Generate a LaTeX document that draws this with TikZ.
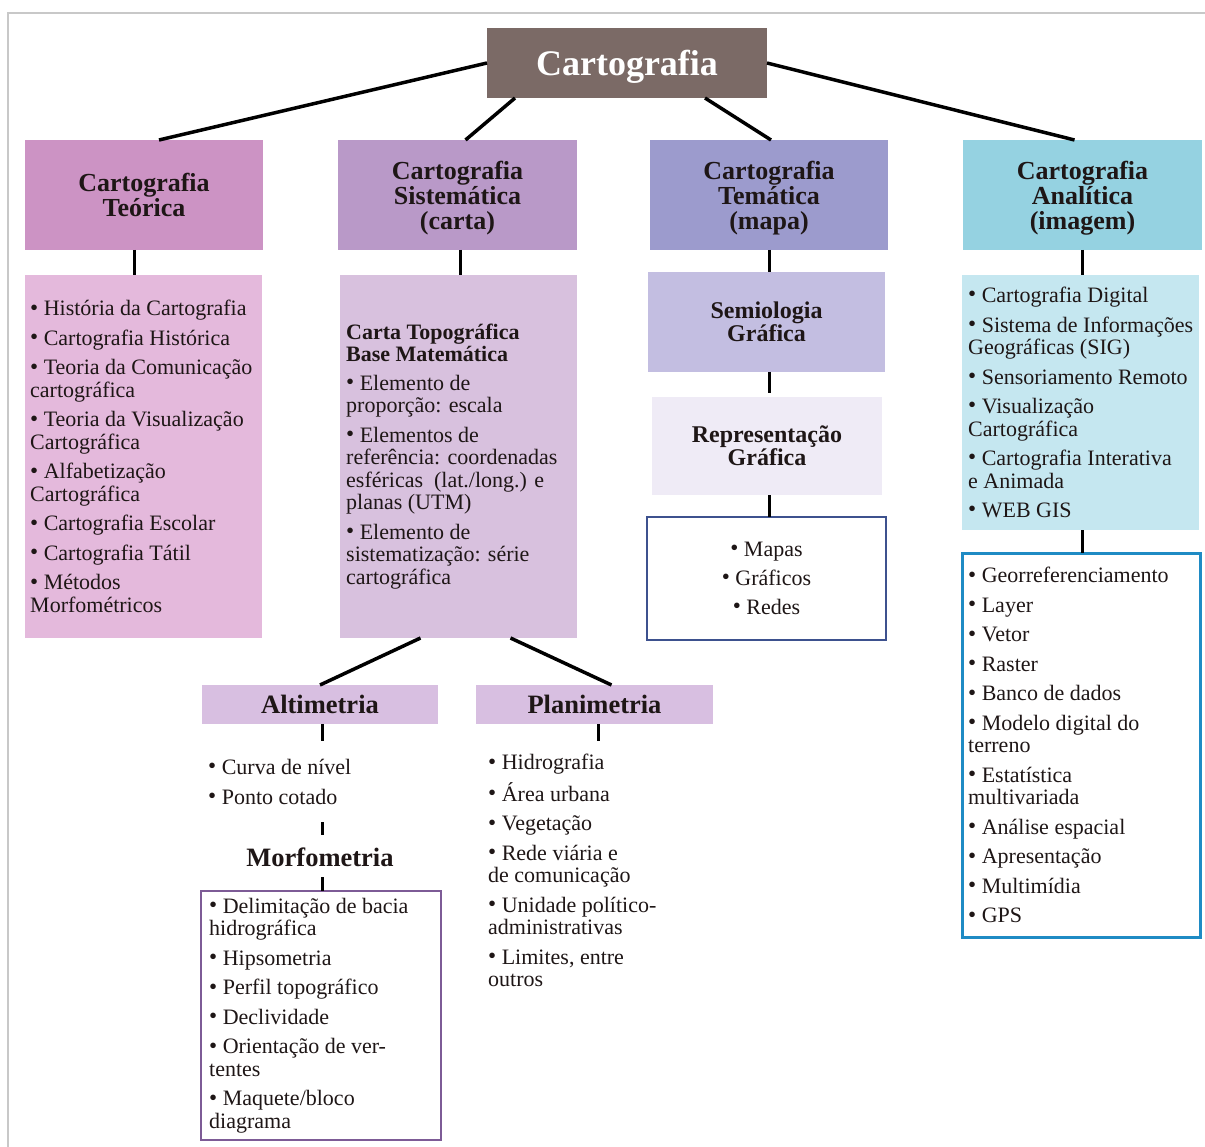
\documentclass[tikz,border=0pt]{standalone}
\usepackage{fontspec}
\usepackage{graphicx}
\setmainfont{Liberation Serif}
\usetikzlibrary{calc}

\definecolor{rootfill}{HTML}{7B6A66}
\definecolor{teohead}{HTML}{CC93C4}
\definecolor{teobody}{HTML}{E4B9DC}
\definecolor{sishead}{HTML}{B999C8}
\definecolor{sisbody}{HTML}{D8C1DE}
\definecolor{temhead}{HTML}{9C9BCD}
\definecolor{semifill}{HTML}{C3BEE1}
\definecolor{reprfill}{HTML}{EFEBF6}
\definecolor{mapaline}{HTML}{3D518E}
\definecolor{anahead}{HTML}{95D2E1}
\definecolor{anabody}{HTML}{C5E7F0}
\definecolor{gisline}{HTML}{1F8BC4}
\definecolor{altfill}{HTML}{D8BFE1}
\definecolor{morfline}{HTML}{7D5B96}
\definecolor{framegray}{HTML}{C8C8C8}
\definecolor{ink}{HTML}{1E1616}

% raised bullet for list items
\newcommand\bul{\raisebox{0.6pt}{\scalebox{1.05}{\textbullet}}\ }

\tikzset{
  box/.style={anchor=north west, inner sep=0pt, outer sep=0pt, rectangle},
  head/.style={box, align=center, text=ink, text depth=0pt, font=\fontsize{26}{25}\selectfont\bfseries},
  subhead/.style={box, align=center, text=ink, font=\fontsize{24}{23}\selectfont\bfseries},
  listtxt/.style={align=left, inner sep=0pt, text=ink, font=\fontsize{22}{22.5}\selectfont},
  link/.style={line width=3.5pt, black},
  stub/.style={line width=3pt, black},
}

\begin{document}
\begin{tikzpicture}[x=1pt, y=-1pt]
  \useasboundingbox (0,0) rectangle (1205,1147);
  \fill[white] (0,0) rectangle (1205,1147);
  % page frame
  \draw[framegray, line width=2.5pt] (1205,13) -- (8,13) -- (8,1147);

  % root
  \node[box, fill=rootfill, minimum width=280, minimum height=70, text=white,
        text height=26pt, text depth=0pt,
        font=\fontsize{36}{36}\selectfont\bfseries] (root) at (487,28) {Cartografia};

  % four branches
  \node[head, fill=teohead, minimum width=238, minimum height=110] (teo) at (25,140)
    {Cartografia\\Teórica};
  \node[head, fill=sishead, minimum width=239, minimum height=110] (sis) at (338,140)
    {Cartografia\\Sistemática\\(carta)};
  \node[head, fill=temhead, minimum width=238, minimum height=110] (tem) at (650,140)
    {Cartografia\\Temática\\(mapa)};
  \node[head, fill=anahead, minimum width=239, minimum height=110] (ana) at (963,140)
    {Cartografia\\Analítica\\(imagem)};

  % Cartografia Teórica
  \node[box, fill=teobody, minimum width=237, minimum height=363] (teolist) at (25,275) {};
  \node[listtxt, anchor=west] (teotxt) at ([xshift=5pt]teolist.west)
    {\bul História da Cartografia\\[7pt]
     \bul Cartografia Histórica\\[7pt]
     \bul Teoria da Comunicação\\cartográfica\\[7pt]
     \bul Teoria da Visualização\\Cartográfica\\[7pt]
     \bul Alfabetização\\Cartográfica\\[7pt]
     \bul Cartografia Escolar\\[7pt]
     \bul Cartografia Tátil\\[7pt]
     \bul Métodos\\Morfométricos};

  % Cartografia Sistemática
  \node[box, fill=sisbody, minimum width=237, minimum height=363] (sislist) at (340,275) {};
  \node[listtxt, anchor=west] (sistxt) at ([xshift=6pt]sislist.west)
    {\textbf{Carta Topográfica}\\
     \textbf{Base Matemática}\\[6pt]
     \bul Elemento de\\proporção: escala\\[7pt]
     \bul Elementos de\\referência: coordenadas\\esféricas\ \ (lat./long.) e\\planas (UTM)\\[7pt]
     \bul Elemento de\\sistematização: série\\cartográfica};

  % Cartografia Temática
  \node[subhead, fill=semifill, minimum width=237, minimum height=100] (semi) at (648,272)
    {Semiologia\\Gráfica};
  \node[subhead, fill=reprfill, minimum width=230, minimum height=98] (repr) at (652,397)
    {Representação\\Gráfica};
  \node[box, draw=mapaline, line width=2.5pt, fill=white, minimum width=239, minimum height=123] (mapas) at (647,517) {};
  \node[listtxt, align=center] (mapastxt) at (mapas.center)
    {\bul Mapas\\[6.5pt]\bul Gráficos\\[6.5pt]\bul Redes};

  % Cartografia Analítica
  \node[box, fill=anabody, minimum width=237, minimum height=255] (analist) at (962,275) {};
  \node[listtxt, anchor=west] (anatxt) at ([xshift=6pt]analist.west)
    {\bul Cartografia Digital\\[7pt]
     \bul Sistema de Informações\\Geográficas (SIG)\\[7pt]
     \bul Sensoriamento Remoto\\[7pt]
     \bul Visualização\\Cartográfica\\[7pt]
     \bul Cartografia Interativa\\e Animada\\[7pt]
     \bul WEB GIS};
  \node[box, draw=gisline, line width=3pt, fill=white, minimum width=238, minimum height=384] (gis) at (962,553) {};
  \node[listtxt, anchor=west] (gistxt) at ([xshift=6pt]gis.west)
    {\bul Georreferenciamento\\[7pt]
     \bul Layer\\[7pt]
     \bul Vetor\\[7pt]
     \bul Raster\\[7pt]
     \bul Banco de dados\\[7pt]
     \bul Modelo digital do\\terreno\\[7pt]
     \bul Estatística\\multivariada\\[7pt]
     \bul Análise espacial\\[7pt]
     \bul Apresentação\\[7pt]
     \bul Multimídia\\[7pt]
     \bul GPS};

  % Altimetria / Planimetria
  \node[box, fill=altfill, minimum width=236, minimum height=39, text=ink,
        font=\fontsize{26.5}{26}\selectfont\bfseries] (alt) at (202,685) {Altimetria};
  \node[box, fill=altfill, minimum width=237, minimum height=39, text=ink,
        font=\fontsize{26.5}{26}\selectfont\bfseries] (plan) at (476,685) {Planimetria};
  \node[listtxt, anchor=north west] (altitems) at (208,759)
    {\bul Curva de nível\\[7pt]\bul Ponto cotado};
  \node[listtxt, anchor=north west] (planitems) at (488,754)
    {\bul Hidrografia\\[7pt]
     \bul Área urbana\\[7pt]
     \bul Vegetação\\[7pt]
     \bul Rede viária e\\de comunicação\\[7pt]
     \bul Unidade político-\\administrativas\\[7pt]
     \bul Limites, entre\\outros};
  \node[anchor=base, inner sep=0pt, text=ink, font=\fontsize{26.5}{26}\selectfont\bfseries]
    (morf) at (320,866) {Morfometria};
  \node[box, draw=morfline, line width=2.5pt, fill=white, minimum width=240, minimum height=249] (morfbox) at (201,891) {};
  \node[listtxt, anchor=west] (morftxt) at ([xshift=8pt]morfbox.west)
    {\bul Delimitação de bacia\\hidrográfica\\[7pt]
     \bul Hipsometria\\[7pt]
     \bul Perfil topográfico\\[7pt]
     \bul Declividade\\[7pt]
     \bul Orientação de ver-\\tentes\\[7pt]
     \bul Maquete/bloco\\diagrama};

  % connectors from the root
  \draw[link] (root.west) -- ([xshift=15pt]teo.north);
  \draw[link] ([xshift=28pt]root.south west) -- ([xshift=8pt]sis.north);
  \draw[link] ([xshift=-62pt]root.south east) -- ([xshift=2pt]tem.north);
  \draw[link] (root.east) -- ([xshift=-8pt]ana.north);

  % vertical connectors
  \draw[stub] ([xshift=-10pt]teo.south) -- ([xshift=-10pt]teo.south |- teolist.north);
  \draw[stub] ([xshift=3pt]sis.south) -- ([xshift=3pt]sis.south |- sislist.north);
  \draw[stub] (tem.south) -- (tem.south |- semi.north);
  \draw[stub] (semi.south -| tem.south) -- ([yshift=4pt]tem.south |- repr.north);
  \draw[stub] (repr.south -| tem.south) -- (tem.south |- mapas.north);
  \draw[stub] (ana.south) -- (ana.south |- analist.north);
  \draw[stub] (analist.south -| ana.south) -- (ana.south |- gis.north);

  % Sistemática to Altimetria / Planimetria
  \draw[link] ([xshift=-38pt]sislist.south) -- (alt.north);
  \draw[link] ([xshift=52pt]sislist.south) -- ([xshift=17pt]plan.north);

  % short stubs under Altimetria / Planimetria
  \coordinate (altstub) at (322,741);
  \coordinate (planstub) at (598,741);
  \draw[stub] (altstub |- alt.south) -- (altstub);
  \draw[stub] (planstub |- plan.south) -- (planstub);
  \coordinate (ms1) at (322,822);
  \coordinate (ms2) at (322,835);
  \coordinate (ms3) at (322,877);
  \draw[stub] (ms1) -- (ms2);
  \draw[stub] (ms3) -- (ms3 |- morfbox.north);
\end{tikzpicture}
\end{document}
